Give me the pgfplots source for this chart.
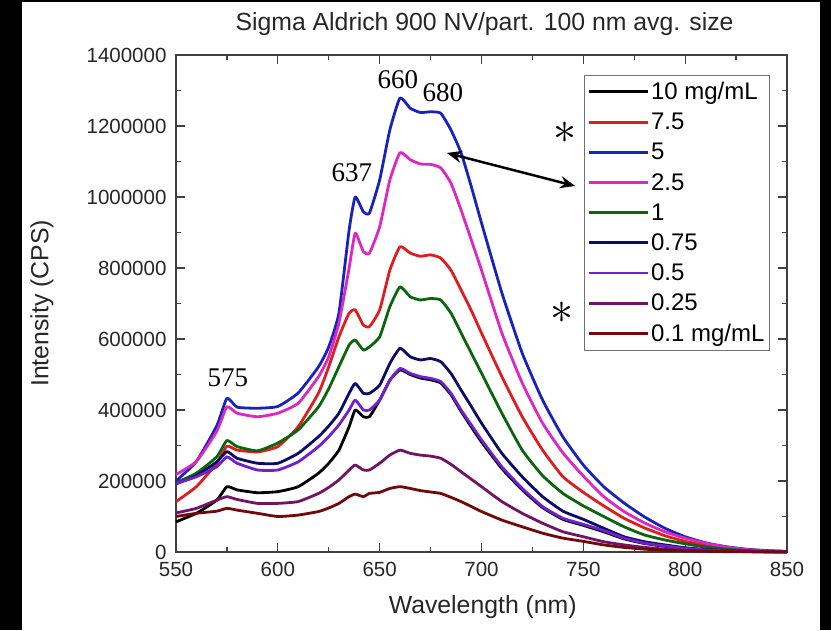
\documentclass[border=0pt]{standalone}
\usepackage{pgfplots}
\pgfplotsset{compat=1.18}
\usepackage{fontspec}
\setmainfont{Liberation Sans}
\newfontfamily\timesfont{Liberation Serif}
\usetikzlibrary{arrows.meta}

\definecolor{cred}{RGB}{222,30,30}
\definecolor{cblue}{RGB}{25,35,185}
\definecolor{cmag}{RGB}{222,38,192}
\definecolor{cgreen}{RGB}{12,100,12}
\definecolor{cnavy}{RGB}{12,12,100}
\definecolor{cpurple}{RGB}{112,32,205}
\definecolor{cdpurple}{RGB}{112,20,100}
\definecolor{cbrown}{RGB}{112,10,10}

% intensities in thousands of CPS
\begin{document}
\begin{tikzpicture}
\path[use as bounding box] (-176pt,-78pt) rectangle (655pt,552pt);
\begin{axis}[
  width=611pt, height=497pt, scale only axis,
  xmin=550, xmax=850, ymin=0, ymax=1400,
  xtick={550,600,650,700,750,800,850},
  xticklabels={550,600,650,700,750,800,850},
  ytick={0,200,400,600,800,1000,1200,1400},
  yticklabels={0,200000,400000,600000,800000,1000000,1200000,1400000},
  minor x tick num=1, minor y tick num=1,
  tick align=inside, major tick length=9pt, minor tick length=5pt,
  axis line style={line width=1.3pt, black!75},
  tick style={line width=1.3pt, black!75},
  tick label style={font=\fontsize{20.5}{24}\selectfont, text=black!85},
  yticklabel style={xshift=-6pt},
  xticklabel style={yshift=-7pt},
  xlabel={Wavelength (nm)}, ylabel={Intensity (CPS)},
  label style={font=\fontsize{24.8}{28}\selectfont, text=black!85},
  xlabel style={at={(axis description cs:0.502,-0.1107)}, anchor=center},
  ylabel style={at={(axis description cs:-0.2193,0.5)}, anchor=center},
  title={Sigma Aldrich 900 NV/part. 100 nm avg. size},
  title style={at={(axis description cs:0.505,1.0503)}, anchor=center,
    font=\fontsize{24.8}{28}\selectfont, text=black!85},
  clip=false,
  every axis plot/.append style={line width=2.8pt, line join=round, smooth, tension=0.3},
  legend cell align=left,
  legend image code/.code={\draw[#1, sharp plot] (0pt,0pt) -- (59pt,0pt);},
  legend style={at={(axis description cs:0.972,0.960)}, anchor=north east,
    draw=black!55, line width=1pt, font=\fontsize{24}{24}\selectfont,
    row sep=8pt, inner xsep=3pt, inner ysep=5pt},
]
% 10 mg/mL
\addplot[black] coordinates {
(550,85) (560,109) (570,146) (575,184) (580,175) (590,167) (600,170) (610,184)
(620,222) (625,250) (630,287) (635,353) (638,400) (642,381) (645,381) (650,428)
(655,484) (660,513) (665,500) (670,490) (675,485) (680,476) (685,443) (690,396)
(695,352) (700,310) (710,235) (720,175) (730,125) (740,92) (750,75) (760,57)
(770,37) (780,24) (790,16) (800,10) (810,6) (820,3) (830,2) (840,1) (850,0.5)};
\addlegendentry{10 mg/mL}
% 7.5
\addplot[cred] coordinates {
(550,142) (560,184) (570,250) (575,298) (580,287) (590,282) (600,297) (610,353)
(620,448) (625,522) (630,606) (635,673) (638,682) (642,639) (645,635) (650,682)
(655,794) (660,860) (665,842) (670,833) (675,837) (680,828) (685,794) (690,738)
(695,680) (700,617) (710,494) (720,381) (730,287) (740,212) (750,168) (760,130)
(770,95) (780,68) (790,46) (800,30) (810,19) (820,11) (830,6) (840,3) (850,1)};
\addlegendentry{7.5}
% 5
\addplot[cblue] coordinates {
(550,200) (560,255) (570,355) (575,433) (580,408) (590,405) (600,410) (610,448)
(620,522) (625,578) (630,673) (635,907) (638,1000) (642,958) (645,955) (650,1048)
(655,1189) (660,1279) (665,1250) (670,1238) (675,1240) (680,1236) (685,1189) (690,1124)
(695,1029) (700,927) (710,730) (720,560) (730,428) (740,324) (750,245) (760,184)
(770,138) (780,99) (790,67) (800,43) (810,26) (820,15) (830,8) (840,4) (850,2)};
\addlegendentry{5}
% 2.5
\addplot[cmag] coordinates {
(550,218) (560,255) (570,340) (575,409) (580,391) (590,381) (600,391) (610,419)
(620,494) (625,550) (630,645) (635,800) (638,898) (642,846) (645,842) (650,916)
(655,1048) (660,1125) (665,1105) (670,1093) (675,1092) (680,1082) (685,1039) (690,963)
(695,879) (700,794) (710,617) (720,476) (730,363) (740,279) (750,214) (760,156)
(770,114) (780,82) (790,57) (800,39) (810,25) (820,14) (830,7) (840,3) (850,1)};
\addlegendentry{2.5}
% 1
\addplot[cgreen] coordinates {
(550,195) (560,222) (570,268) (575,314) (580,297) (590,285) (600,307) (610,344)
(620,409) (625,460) (630,522) (635,583) (638,597) (642,569) (645,578) (650,606)
(655,691) (660,747) (665,719) (670,710) (675,714) (680,710) (685,673) (690,617)
(695,560) (700,504) (710,391) (720,287) (730,215) (740,165) (750,130) (760,100)
(770,71) (780,48) (790,34) (800,23) (810,14) (820,8) (830,4) (840,2) (850,1)};
\addlegendentry{1}
% 0.75
\addplot[cnavy] coordinates {
(550,192) (560,215) (570,254) (575,283) (580,264) (590,250) (600,250) (610,278)
(620,325) (625,355) (630,391) (635,447) (638,475) (642,447) (645,447) (650,470)
(655,531) (660,574) (665,550) (670,541) (675,545) (680,536) (685,503) (690,456)
(695,410) (700,363) (710,278) (720,212) (730,156) (740,115) (750,92) (760,67)
(770,43) (780,29) (790,20) (800,12) (810,7) (820,4) (830,2) (840,1) (850,0.5)};
\addlegendentry{0.75}
% 0.5
\addplot[cpurple] coordinates {
(550,193) (560,212) (570,240) (575,268) (580,250) (590,231) (600,231) (610,254)
(620,297) (625,325) (630,358) (635,400) (638,428) (642,400) (645,400) (650,428)
(655,484) (660,517) (665,503) (670,494) (675,489) (680,480) (685,447) (690,400)
(695,358) (700,316) (710,240) (720,179) (730,128) (740,95) (750,78) (760,60)
(770,39) (780,25) (790,17) (800,10) (810,6) (820,3) (830,2) (840,1) (850,0.5)};
\addlegendentry{0.5}
% 0.25
\addplot[cdpurple] coordinates {
(550,110) (560,123) (570,146) (575,156) (580,148) (590,137) (600,137) (610,142)
(620,165) (625,182) (630,203) (635,231) (638,245) (642,231) (645,231) (650,250)
(655,273) (660,287) (665,278) (670,273) (675,270) (680,264) (685,247) (690,226)
(695,205) (700,184) (710,142) (720,109) (730,81) (740,57) (750,43) (760,29)
(770,20) (780,13) (790,8) (800,5) (810,3) (820,2) (830,1) (840,0.5) (850,0.3)};
\addlegendentry{0.25}
% 0.1 mg/mL
\addplot[cbrown] coordinates {
(550,100) (560,109) (570,115) (575,123) (580,118) (590,109) (600,100) (610,104)
(620,114) (625,124) (630,137) (635,156) (638,163) (642,156) (645,165) (650,168)
(655,179) (660,184) (665,179) (670,173) (675,169) (680,165) (685,154) (690,142)
(695,128) (700,114) (710,90) (720,71) (730,53) (740,39) (750,30) (760,20)
(770,13) (780,8) (790,5) (800,3) (810,2) (820,1) (830,0.5) (840,0.3) (850,0.2)};
\addlegendentry{0.1 mg/mL}

\begin{scope}[font=\timesfont\fontsize{27}{27}\selectfont]
\node at (axis cs:659,1330) {660};
\node at (axis cs:681,1293) {680};
\node at (axis cs:636.4,1068) {637};
\node at (axis cs:575.5,490) {575};
\end{scope}
\node[scale=4.6] at (axis cs:741,1180) {$\ast$};
\node[scale=4.6] at (axis cs:739.5,673) {$\ast$};
\draw[line width=2.5pt, {Stealth[length=15pt,width=12pt]}-{Stealth[length=15pt,width=12pt]}]
  (axis cs:683,1124) -- (axis cs:746,1031);
\end{axis}
\fill[black] (-176pt,-78pt) rectangle (-154pt,552pt);
\fill[black] (644pt,-78pt) rectangle (655pt,552pt);
\fill[black] (-176pt,549.5pt) rectangle (655pt,552pt);
\end{tikzpicture}
\end{document}
